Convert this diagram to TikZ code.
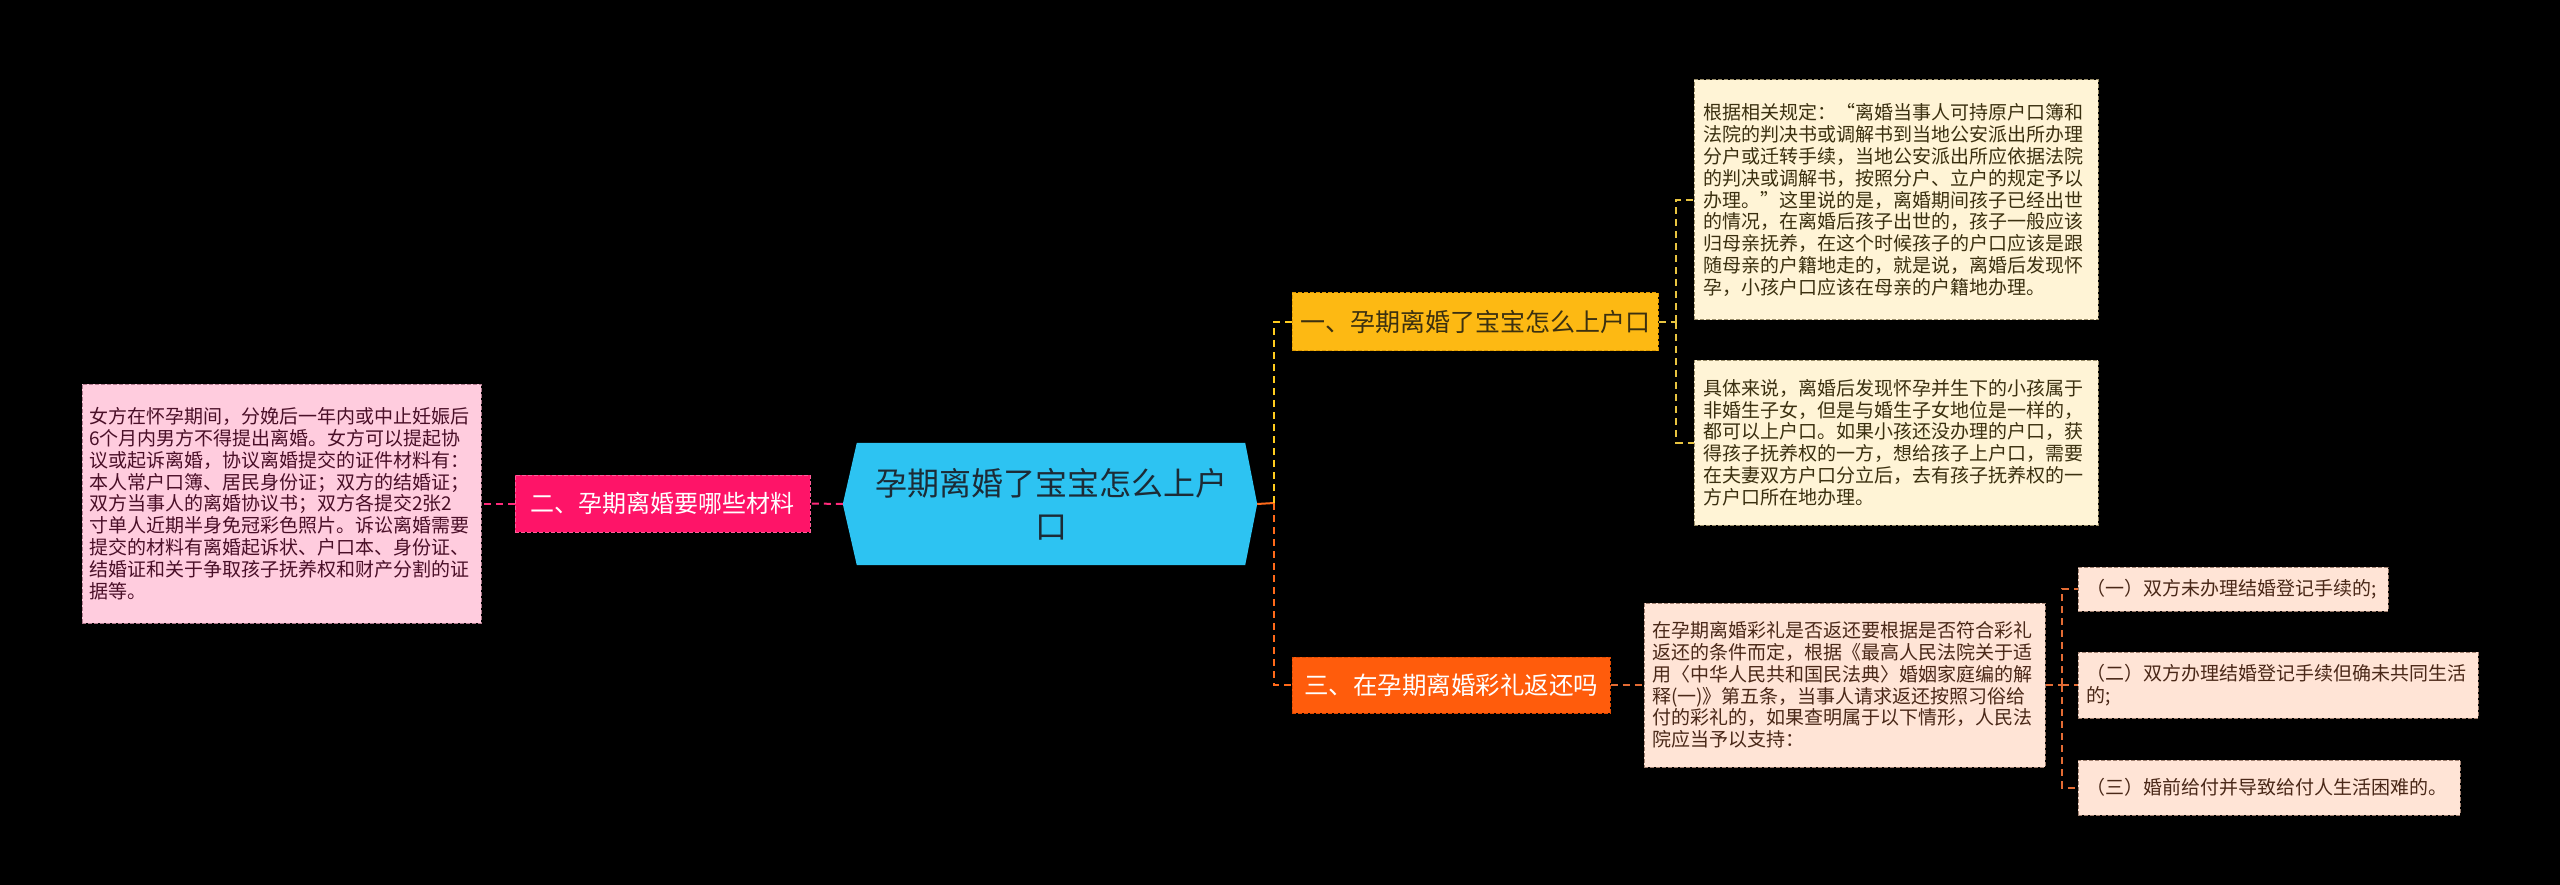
\documentclass[tikz,border=0pt]{standalone}
\usepackage{fontspec}
\setmainfont{Noto Sans CJK SC}
\usetikzlibrary{backgrounds}
\definecolor{cfill}{HTML}{2DC3F2}
\definecolor{ctext}{HTML}{1C2B36}
\definecolor{yfill}{HTML}{FDB913}
\definecolor{yborder}{HTML}{E09A00}
\definecolor{pfill}{HTML}{FE1468}
\definecolor{pborder}{HTML}{FF5C98}
\definecolor{ofill}{HTML}{FF5C0C}
\definecolor{oborder}{HTML}{E04A00}
\definecolor{lpink}{HTML}{FFCCDE}
\definecolor{lpinkb}{HTML}{B07A8E}
\definecolor{cream}{HTML}{FFF4D6}
\definecolor{creamb}{HTML}{9A8E6A}
\definecolor{peach}{HTML}{FFE4D6}
\definecolor{peachb}{HTML}{A08070}
\definecolor{ylink}{HTML}{FFCC1E}
\definecolor{ylink2}{HTML}{E8C440}
\definecolor{olink}{HTML}{FF6A1A}
\definecolor{olink2}{HTML}{E46C34}
\definecolor{plink}{HTML}{FF2A7A}
\definecolor{tpink}{HTML}{4A0F28}
\definecolor{tcream}{HTML}{3B3010}
\definecolor{tpeach}{HTML}{4A2818}
\begin{document}
\begin{tikzpicture}[x=1pt,y=-1pt,
  box/.style={rectangle, inner sep=0pt, line width=1pt, dash pattern=on 4pt off 2pt},
  branch/.style={box, align=center},
  leaf/.style={box, align=left, font=\fontsize{19pt}{21.8pt}\selectfont},
  link/.style={line width=2pt, dash pattern=on 7pt off 5pt}
]
\begin{scope}[on background layer]
\fill[black] (0,0) rectangle (2560,885);
\end{scope}
\useasboundingbox (0,0) rectangle (2560,885);

% centre
\node[inner sep=0pt, minimum width=388pt, minimum height=122pt, align=center,
      text=ctext, font=\fontsize{32pt}{43pt}\selectfont] (c) at (1051,504)
      {孕期离婚了宝宝怎么上户\\口};
\coordinate (cL) at ([xshift=-14pt]c.west);
\coordinate (cR) at ([xshift=12pt]c.east);
\begin{scope}[on background layer]
\fill[cfill] (cL) -- (c.north west) -- (c.north east) -- (cR) -- (c.south east) -- (c.south west) -- cycle;
\end{scope}

% branches
\node[branch, fill=yfill, draw=yborder, text=tcream, minimum width=366pt, minimum height=58pt,
      font=\fontsize{25pt}{30pt}\selectfont] (b1) at (1475,322) {一、孕期离婚了宝宝怎么上户口};
\node[branch, fill=pfill, draw=pborder, text=white, minimum width=295pt, minimum height=57pt,
      font=\fontsize{24pt}{28pt}\selectfont] (b2) at (662.5,503.5) {二、孕期离婚要哪些材料};
\node[branch, fill=ofill, draw=oborder, text=white, minimum width=318pt, minimum height=56pt,
      font=\fontsize{24.5pt}{28pt}\selectfont] (b3) at (1451,685) {三、在孕期离婚彩礼返还吗};

% leaves
\node[leaf, fill=lpink, draw=lpinkb, text=tpink, minimum width=399pt, minimum height=239pt,
      text width=385pt] (L) at (281.5,503.5)
{女方在怀孕期间，分娩后一年内或中止妊娠后\\
6个月内男方不得提出离婚。女方可以提起协\\
议或起诉离婚，协议离婚提交的证件材料有：\\
本人常户口簿、居民身份证；双方的结婚证；\\
双方当事人的离婚协议书；双方各提交2张2\\
寸单人近期半身免冠彩色照片。诉讼离婚需要\\
提交的材料有离婚起诉状、户口本、身份证、\\
结婚证和关于争取孩子抚养权和财产分割的证\\
据等。};

\node[leaf, fill=cream, draw=creamb, text=tcream, minimum width=404pt, minimum height=240pt,
      text width=386pt] (R1) at (1896,200)
{根据相关规定：“离婚当事人可持原户口簿和\\
法院的判决书或调解书到当地公安派出所办理\\
分户或迁转手续，当地公安派出所应依据法院\\
的判决或调解书，按照分户、立户的规定予以\\
办理。”这里说的是，离婚期间孩子已经出世\\
的情况，在离婚后孩子出世的，孩子一般应该\\
归母亲抚养，在这个时候孩子的户口应该是跟\\
随母亲的户籍地走的，就是说，离婚后发现怀\\
孕，小孩户口应该在母亲的户籍地办理。};

\node[leaf, fill=cream, draw=creamb, text=tcream, minimum width=404pt, minimum height=165pt,
      text width=386pt] (R2) at (1896,442.5)
{具体来说，离婚后发现怀孕并生下的小孩属于\\
非婚生子女，但是与婚生子女地位是一样的，\\
都可以上户口。如果小孩还没办理的户口，获\\
得孩子抚养权的一方，想给孩子上户口，需要\\
在夫妻双方户口分立后，去有孩子抚养权的一\\
方户口所在地办理。};

\node[leaf, fill=peach, draw=peachb, text=tpeach, minimum width=401pt, minimum height=164pt,
      text width=385pt] (R3) at (1844.5,685)
{在孕期离婚彩礼是否返还要根据是否符合彩礼\\
返还的条件而定，根据《最高人民法院关于适\\
用〈中华人民共和国民法典〉婚姻家庭编的解\\
释(一)》第五条，当事人请求返还按照习俗给\\
付的彩礼的，如果查明属于以下情形，人民法\\
院应当予以支持：};

\node[leaf, fill=peach, draw=peachb, text=tpeach, minimum width=310pt, minimum height=44pt,
      text width=294pt] (s1) at (2233,589) {（一）双方未办理结婚登记手续的;};
\node[leaf, fill=peach, draw=peachb, text=tpeach, minimum width=400pt, minimum height=66pt,
      text width=384pt] (s2) at (2278,685) {（二）双方办理结婚登记手续但确未共同生活\\的;};
\node[leaf, fill=peach, draw=peachb, text=tpeach, minimum width=382pt, minimum height=55pt,
      text width=366pt] (s3) at (2269,787.5) {（三）婚前给付并导致给付人生活困难的。};

% connectors: centre to branches
\coordinate (t) at (1274,503);
\draw[olink, line width=2pt] (cR) -- (t);
\draw[link, ylink] (t) |- (b1.west);
\draw[link, olink] (t) |- (b3.west);
\draw[link, plink] (cL) -- (b2.east);
\draw[link, plink] (b2.west) -- (L.east);

% branch 1 to leaves
\coordinate (j1) at (1676,322);
\draw[link, ylink2] (b1.east) -- (j1);
\draw[link, ylink2] (j1) |- (R1.west);
\draw[link, ylink2] (j1) |- (R2.west);

% branch 3 to leaves
\draw[link, olink2] (b3.east) -- (R3.west);
\coordinate (j3) at (2062,685);
\draw[link, olink2] (R3.east) -- (j3);
\draw[link, olink2] (j3) |- (s1.west);
\draw[link, olink2] (j3) |- (s2.west);
\draw[link, olink2] (j3) |- (s3.west);
\end{tikzpicture}
\end{document}
